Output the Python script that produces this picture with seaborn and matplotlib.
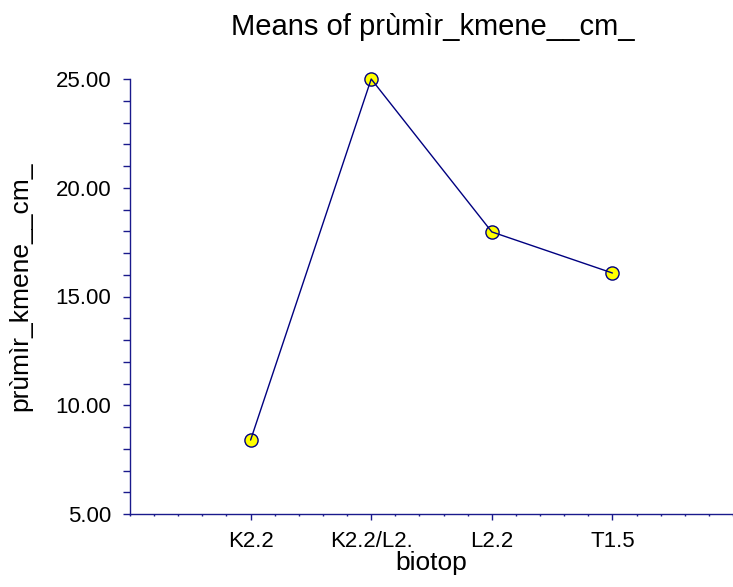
import matplotlib
matplotlib.use("Agg")
import matplotlib.pyplot as plt
import seaborn as sns
import numpy as np
import pandas as pd
from matplotlib.ticker import MultipleLocator, FixedLocator, FormatStrFormatter

categories = ["K2.2", "K2.2/L2.", "L2.2", "T1.5"]
means = [8.40, 25.00, 17.97, 16.08]
title = "Means of prùmìr_kmene__cm_"
xlabel = "biotop"
ylabel = "prùmìr_kmene__cm_"

sns.set_theme(style="white")
plt.rcParams['font.family'] = ['Liberation Sans', 'DejaVu Sans']
plt.rcParams['text.color'] = 'black'
plt.rcParams['axes.labelcolor'] = 'black'

df = pd.DataFrame({"pos": np.arange(1, len(categories) + 1), "mean": means})

fig = plt.figure(figsize=(7.33, 5.87), dpi=100)
ax = fig.add_axes([130/733, 1 - 514/587, 1 - 130/733, (514 - 79)/587])
navy = "#1a1a8c"
line_c = "#000080"
sns.scatterplot(data=df, x="pos", y="mean", ax=ax, s=90, color="#ffff00",
                edgecolor=line_c, linewidth=1.0, zorder=2, clip_on=False)
sns.lineplot(data=df, x="pos", y="mean", ax=ax, color=line_c, linewidth=1.0,
             zorder=3, clip_on=False)

ax.set_xlim(0, len(categories) + 1)
ax.set_ylim(5, 25)
ax.xaxis.set_major_locator(FixedLocator(df["pos"].tolist()))
ax.set_xticklabels(categories)
ax.xaxis.set_minor_locator(MultipleLocator(0.2))
ax.yaxis.set_major_locator(MultipleLocator(5))
ax.yaxis.set_minor_locator(MultipleLocator(1))
ax.yaxis.set_major_formatter(FormatStrFormatter("%.2f"))

for s in ["top", "right"]:
    ax.spines[s].set_visible(False)
for s in ["left", "bottom"]:
    ax.spines[s].set_color(navy)
    ax.spines[s].set_linewidth(1.0)

ax.tick_params(axis="both", which="both", colors=navy, labelcolor="black",
               direction="out", labelsize=16)
ax.tick_params(axis="y", which="major", length=5, width=1, left=True, pad=8.5)
ax.tick_params(axis="y", which="minor", length=5, width=1, left=True)
ax.tick_params(axis="x", which="major", length=4.5, width=1, bottom=True, pad=8)
ax.tick_params(axis="x", which="minor", length=1.5, width=1, bottom=True)

ax.set_xlabel(xlabel, fontsize=19, color="black")
ax.set_ylabel(ylabel, fontsize=19, color="black")
ax.xaxis.set_label_coords(0.5, -0.085)
ax.yaxis.set_label_coords(-0.162, 0.523)
fig.text(433/733, 1 - 35/587, title, ha="center", va="baseline", fontsize=21,
         color="black")

fig.savefig("out.png", dpi=100)
